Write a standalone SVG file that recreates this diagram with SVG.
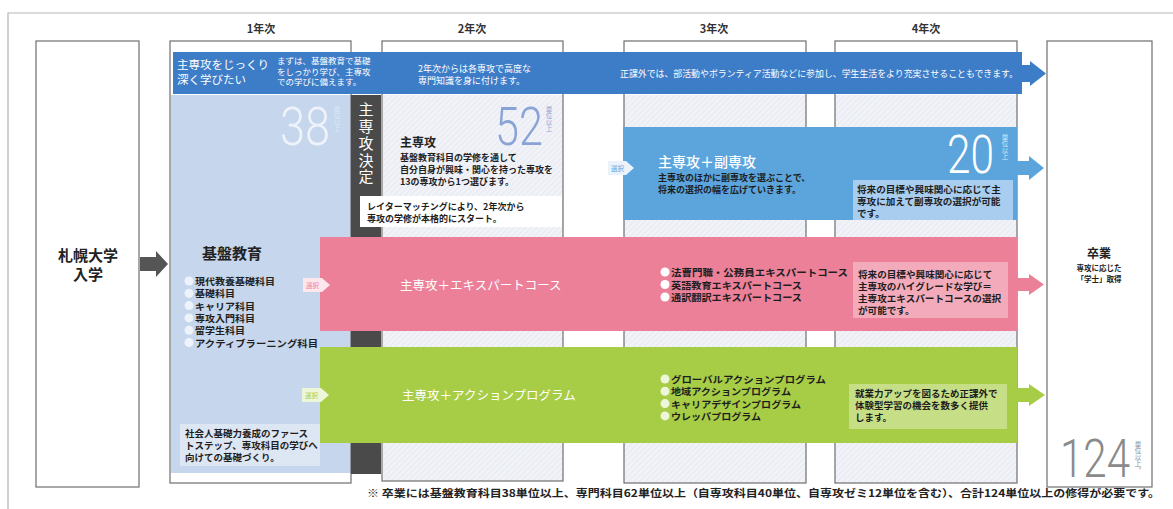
<svg xmlns="http://www.w3.org/2000/svg" width="1173" height="509" viewBox="0 0 1173 509">
<defs>
<pattern id="hatch" width="4" height="4" patternUnits="userSpaceOnUse" patternTransform="rotate(45)">
<rect width="4" height="4" fill="#f1f3f8"/>
<rect width="1.2" height="4" fill="#e7eaf2"/>
</pattern>
<style>
text{font-family:"Noto Sans CJK JP","Noto Sans CJK SC",sans-serif;}
.frame{fill:none;stroke:#6e6e6e;stroke-width:1.2;}
.yr{font-size:11px;font-weight:700;fill:#333;text-anchor:middle;}
.wt{fill:#ffffff;}
.dk{fill:#1e1e1e;font-weight:700;}
.s9{font-size:9px;}
.s85{font-size:8.5px;}
.big{font-family:Roboto,"Open Sans",sans-serif;font-weight:300;font-size:54px;}
.vt{writing-mode:vertical-rl;font-size:6.5px;}
</style>
</defs>
<rect width="1173" height="509" fill="#ffffff"/>
<g id="outer-frame">
<path d="M8,509 V13 H1173" fill="none" stroke="#b5b5b5" stroke-width="1.2"/>
</g>
<g id="year-labels">
<text class="yr" x="261" y="33">1年次</text>
<text class="yr" x="472" y="33">2年次</text>
<text class="yr" x="714" y="33">3年次</text>
<text class="yr" x="926" y="33">4年次</text>
</g>
<g id="column-backgrounds">
<rect x="171" y="95" width="180" height="378" fill="#c6d6ec"/>
<rect x="383" y="95" width="180" height="386" fill="url(#hatch)"/>
<rect x="624" y="95" width="182" height="388" fill="url(#hatch)"/>
<rect x="835" y="95" width="182" height="388" fill="url(#hatch)"/>
<rect class="frame" x="170" y="41" width="181" height="442"/>
<rect class="frame" x="382" y="41" width="181" height="440"/>
<rect class="frame" x="624" y="41" width="182" height="442"/>
<rect class="frame" x="835" y="41" width="182" height="442"/>
</g>
<g id="node-entry">
<rect class="frame" x="36" y="41" width="103" height="446"/>
<text font-size="15" font-weight="700" fill="#222" text-anchor="middle"><tspan x="88" y="261">札幌大学</tspan><tspan x="88" y="280">入学</tspan></text>
</g>
<g id="node-graduation">
<rect class="frame" x="1047" y="41" width="105" height="446"/>
<text x="1099" y="258" font-size="12" font-weight="700" fill="#222" text-anchor="middle">卒業</text>
<text font-size="7.5" font-weight="700" fill="#222" text-anchor="middle"><tspan x="1099" y="271">専攻に応じた</tspan><tspan x="1099" y="282">「学士」取得</tspan></text>
<text class="big" x="1060" y="477" font-size="50" fill="#8a8a8a" textLength="70" lengthAdjust="spacingAndGlyphs">124</text>
<text class="vt" x="1138" y="441" fill="#8a8a8a">単位以上。</text>
</g>
<g id="node-kiban">
<text class="big" x="280" y="145" fill="#eef3fb" textLength="50" lengthAdjust="spacingAndGlyphs">38</text>
<text class="vt" x="337" y="106" fill="#dfe7f5">単位以上</text>
<text x="202" y="259" font-size="15" font-weight="700" fill="#222">基盤教育</text>
<g fill="#eef3fb">
<circle cx="189" cy="281" r="4.5"/><circle cx="189" cy="293.3" r="4.5"/><circle cx="189" cy="305.6" r="4.5"/>
<circle cx="189" cy="317.9" r="4.5"/><circle cx="189" cy="330.2" r="4.5"/><circle cx="189" cy="342.5" r="4.5"/>
</g>
<text class="dk" font-size="9.4"><tspan x="195" y="285" textLength="80" lengthAdjust="spacingAndGlyphs">現代教養基礎科目</tspan><tspan x="195" y="297.3" textLength="40" lengthAdjust="spacingAndGlyphs">基礎科目</tspan><tspan x="195" y="309.6" textLength="60" lengthAdjust="spacingAndGlyphs">キャリア科目</tspan><tspan x="195" y="321.9" textLength="60" lengthAdjust="spacingAndGlyphs">専攻入門科目</tspan><tspan x="195" y="334.2" textLength="50" lengthAdjust="spacingAndGlyphs">留学生科目</tspan><tspan x="195" y="346.5" textLength="123" lengthAdjust="spacingAndGlyphs">アクティブラーニング科目</tspan></text>
<rect x="180" y="424" width="140" height="42" fill="#dde6f3"/>
<text class="dk" font-size="9.5"><tspan x="185" y="437">社会人基礎力養成のファース</tspan><tspan x="185" y="449">トステップ、専攻科目の学びへ</tspan><tspan x="185" y="461">向けての基礎づくり。</tspan></text>
</g>
<g id="node-blue-band">
<path d="M173,52 H1022 V65 H1030 V61 L1046,73.5 L1030,86 V82 H1022 V94 H173 Z" fill="#3d7cc7"/>
<text class="wt" font-size="11.5"><tspan x="177" y="69">主専攻をじっくり</tspan><tspan x="177" y="84">深く学びたい</tspan></text>
<text class="wt s85"><tspan x="277" y="64">まずは、基盤教育で基礎</tspan><tspan x="277" y="74.5">をしっかり学び、主専攻</tspan><tspan x="277" y="85">での学びに備えます。</tspan></text>
<text class="wt s9"><tspan x="418" y="72">2年次からは各専攻で高度な</tspan><tspan x="418" y="84">専門知識を身に付けます。</tspan></text>
<text class="wt s9" x="620" y="77" textLength="398" lengthAdjust="spacingAndGlyphs">正課外では、部活動やボランティア活動などに参加し、学生生活をより充実させることもできます。</text>
</g>
<g id="node-decision">
<rect x="351" y="95" width="30" height="379" fill="#4a4a4a"/>
<text x="366" y="102" fill="#ffffff" font-size="15" letter-spacing="1.8" style="writing-mode:vertical-rl">主専攻決定</text>
</g>
<g id="node-major">
<text class="big" x="495" y="145" fill="#8aa3d6" textLength="48" lengthAdjust="spacingAndGlyphs">52</text>
<text class="vt" x="549" y="106" fill="#8aa3d6">単位以上</text>
<text x="400" y="147" font-size="12" font-weight="700" fill="#222">主専攻</text>
<text class="dk s9"><tspan x="400" y="161">基盤教育科目の学修を通して</tspan><tspan x="400" y="173">自分自身が興味・関心を持った専攻を</tspan><tspan x="400" y="185">13の専攻から1つ選びます。</tspan></text>
<rect x="360" y="196" width="202" height="31" fill="#ffffff"/>
<text class="dk s9"><tspan x="367" y="210">レイターマッチングにより、2年次から</tspan><tspan x="367" y="222">専攻の学修が本格的にスタート。</tspan></text>
</g>
<g id="node-minor">
<path d="M623,127 H1017 V161 H1029 V156 L1044,168 L1029,180 V175 H1017 V220 H623 Z" fill="#5ba4dc"/>
<polygon points="608,161 626,161 634,168 626,175 608,175" fill="#eaf3fb"/>
<text x="611" y="170.5" font-size="6.5" fill="#5ba4dc">選択</text>
<text class="wt" x="658" y="167" font-size="14" font-weight="500">主専攻＋副専攻</text>
<text class="dk s9"><tspan x="658" y="181">主専攻のほかに副専攻を選ぶことで、</tspan><tspan x="658" y="193">将来の選択の幅を広げていきます。</tspan></text>
<text class="big" x="947" y="173" fill="#ffffff" textLength="47" lengthAdjust="spacingAndGlyphs">20</text>
<text class="vt" x="1005" y="134" fill="#d6e8f7">単位以上</text>
<rect x="853" y="180" width="160" height="40" fill="#a8cdee"/>
<text class="dk" font-size="9.6"><tspan x="857" y="193">将来の目標や興味関心に応じて主</tspan><tspan x="857" y="205">専攻に加えて副専攻の選択が可能</tspan><tspan x="857" y="217">です。</tspan></text>
</g>
<g id="node-expert">
<path d="M320,237 H1017 V278 H1029 V274 L1044,284.5 L1029,295 V291 H1017 V331 H320 Z" fill="#ec8099"/>
<polygon points="303,278 322,278 330,285 322,292 303,292" fill="#fde6ec"/>
<text x="306" y="287.5" font-size="6.5" fill="#ec8099">選択</text>
<text class="wt" x="400" y="290" font-size="12.5">主専攻＋エキスパートコース</text>
<g fill="#ffffff"><circle cx="665" cy="272" r="4.5"/><circle cx="665" cy="284.5" r="4.5"/><circle cx="665" cy="297" r="4.5"/></g>
<text class="dk" font-size="9.6"><tspan x="671" y="276" textLength="177" lengthAdjust="spacingAndGlyphs">法曹門職・公務員エキスパートコース</tspan><tspan x="671" y="288.5" textLength="131" lengthAdjust="spacingAndGlyphs">英語教育エキスパートコース</tspan><tspan x="671" y="301" textLength="131" lengthAdjust="spacingAndGlyphs">通訳翻訳エキスパートコース</tspan></text>
<rect x="853" y="262" width="155" height="56" fill="#f3abbc"/>
<text class="dk" font-size="9.6"><tspan x="858" y="278">将来の目標や興味関心に応じて</tspan><tspan x="858" y="290">主専攻のハイグレードな学び＝</tspan><tspan x="858" y="302">主専攻エキスパートコースの選択</tspan><tspan x="858" y="314">が可能です。</tspan></text>
</g>
<g id="node-action">
<path d="M320,347 H1017 V388 H1029 V384 L1045,395 L1029,406 V402 H1017 V443 H320 Z" fill="#a7cc46"/>
<polygon points="302,388 321,388 329,395 321,402 302,402" fill="#eef6d8"/>
<text x="305" y="397.5" font-size="6.5" fill="#a7cc46">選択</text>
<text class="wt" x="402" y="400" font-size="12.5">主専攻＋アクションプログラム</text>
<g fill="#eef6d8"><circle cx="665" cy="379" r="4.5"/><circle cx="665" cy="391.3" r="4.5"/><circle cx="665" cy="403.6" r="4.5"/><circle cx="665" cy="415.9" r="4.5"/></g>
<text class="dk" font-size="9.4"><tspan x="671" y="383" textLength="155" lengthAdjust="spacingAndGlyphs">グローバルアクションプログラム</tspan><tspan x="671" y="395.3" textLength="120" lengthAdjust="spacingAndGlyphs">地域アクションプログラム</tspan><tspan x="671" y="407.6" textLength="130" lengthAdjust="spacingAndGlyphs">キャリアデザインプログラム</tspan><tspan x="671" y="419.9" textLength="90" lengthAdjust="spacingAndGlyphs">ウレッパプログラム</tspan></text>
<rect x="849" y="384" width="158" height="45" fill="#c6df86"/>
<text class="dk" font-size="9.5"><tspan x="855" y="397">就業力アップを図るため正課外で</tspan><tspan x="855" y="409">体験型学習の機会を数多く提供</tspan><tspan x="855" y="421">します。</tspan></text>
</g>
<g id="connectors">
<path d="M140,257 H156 V251 L168,264 L156,277 V271 H140 Z" fill="#555555"/>
</g>
<g id="footnote">
<text x="367" y="497" font-size="10.5" font-weight="700" fill="#222" textLength="793" lengthAdjust="spacingAndGlyphs">※ 卒業には基盤教育科目38単位以上、専門科目62単位以上（自専攻科目40単位、自専攻ゼミ12単位を含む）、合計124単位以上の修得が必要です。</text>
</g>
</svg>
